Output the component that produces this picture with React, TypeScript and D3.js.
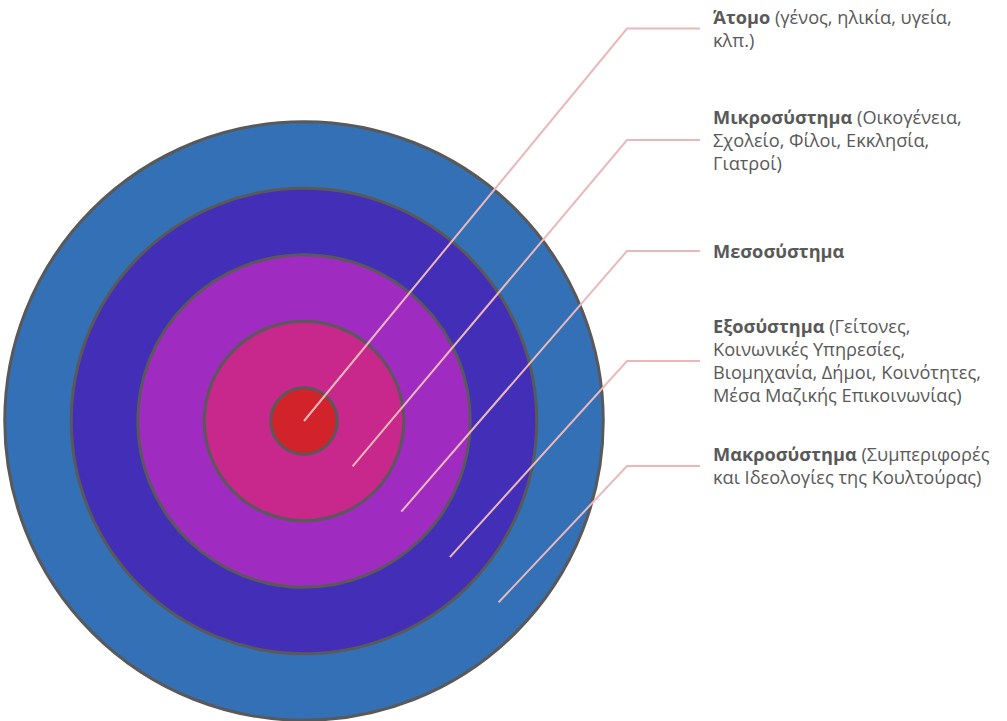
import React from "react";
import * as d3 from "d3";

// ---- Data ----
const levels = ["Άτομο", "Μικροσύστημα", "Μεσοσύστημα", "Εξοσύστημα", "Μακροσύστημα"];
const descriptions = [
  ["(γένος, ηλικία, υγεία,", "κλπ.)"],
  ["(Οικογένεια,", "Σχολείο, Φίλοι, Εκκλησία,", "Γιατροί)"],
  [],
  ["(Γείτονες,", "Κοινωνικές Υπηρεσίες,", "Βιομηχανία, Δήμοι, Κοινότητες,", "Μέσα Μαζικής Επικοινωνίας)"],
  ["(Συμπεριφορές", "και Ιδεολογίες της Κουλτούρας)"],
];
const ringColors = ["#D2232A", "#C8288C", "#A02BC0", "#432EB8", "#3470B5"];

// ---- Layout ----
const W = 1007;
const H = 721;
const cx = 304;
const cy = 421;
const labelLineY = [28.5, 140, 251, 361, 466];
const elbowX = 627;
const lineEndX = 700;
const textX = 713;
const lineHeight = 23;
const fontFamily = "'Open Sans', 'Noto Sans', sans-serif";
const fontSize = 18.2;

export default function App() {
  const r = d3.scaleLinear().domain([0, 5]).range([0, 332.5]);
  const angle = (43 * Math.PI) / 180;
  const order = d3.range(levels.length).reverse();

  return (
    <svg
      width={W}
      height={H}
      style={{ position: "absolute", left: 0, top: 0, background: "#fff" }}
    >
      {order.map((i) => (
        <circle
          key={"c" + i}
          cx={cx}
          cy={cy}
          r={r(i + 0.5)}
          fill={ringColors[i]}
          stroke="#595959"
          strokeWidth={3}
        />
      ))}
      {levels.map((name, i) => {
        const rr = r(i);
        const sx = cx + rr * Math.cos(angle);
        const sy = cy + rr * Math.sin(angle);
        const ly = labelLineY[i];
        const path = d3.line()([
          [sx, sy],
          [elbowX, ly],
          [lineEndX, ly],
        ]);
        return (
          <path
            key={"l" + i}
            d={path || ""}
            fill="none"
            stroke="#EBB8BA"
            strokeWidth={2}
          />
        );
      })}
      {levels.map((name, i) => {
        const desc = descriptions[i];
        const n = Math.max(1, desc.length);
        const first = labelLineY[i] - ((n - 1) * lineHeight) / 2 + 6.5;
        return (
          <text
            key={"t" + i}
            x={textX}
            y={first}
            fontFamily={fontFamily}
            fontSize={fontSize}
            fill="#595959"
          >
            <tspan fontWeight="bold">{name}</tspan>
            {desc.length > 0 && <tspan>{" " + desc[0]}</tspan>}
            {desc.slice(1).map((l, j) => (
              <tspan key={j} x={textX} y={first + (j + 1) * lineHeight}>
                {l}
              </tspan>
            ))}
          </text>
        );
      })}
    </svg>
  );
}
